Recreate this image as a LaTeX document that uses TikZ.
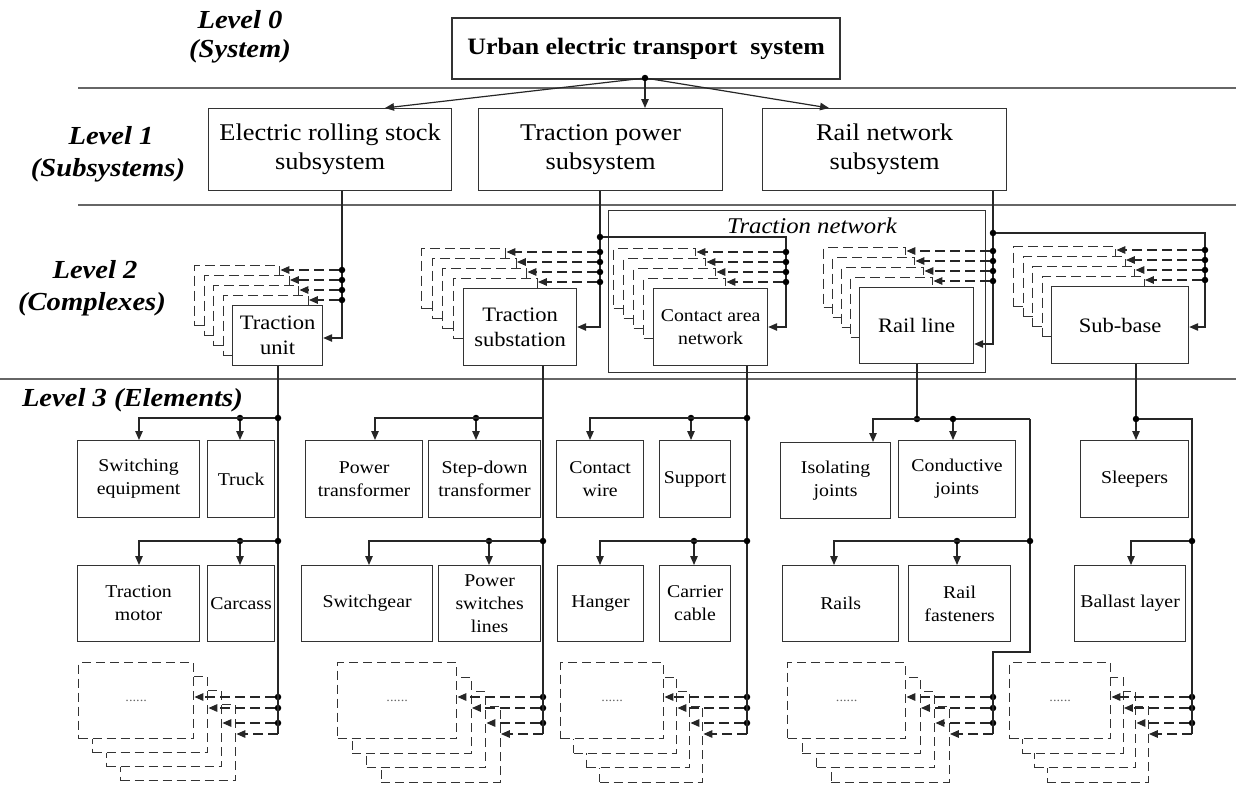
\documentclass[tikz,border=0pt]{standalone}
\usepackage{fontspec}
\setmainfont{Liberation Serif}[FakeStretch=1.1]
\usetikzlibrary{arrows.meta}
\newcommand\fLvl{\fontsize{26}{30}\selectfont\bfseries\itshape}
\newcommand\fTop{\fontsize{23.5}{28}\selectfont\bfseries}
\newcommand\fOne{\fontsize{24}{29}\selectfont}
\newcommand\fTwo{\fontsize{20.5}{25}\selectfont}
\newcommand\fThree{\fontsize{18}{23}\selectfont}
\newcommand\fTN{\fontsize{22.5}{27}\selectfont\itshape}
\newcommand\fDots{\fontsize{13}{13}\selectfont}
\tikzset{
  ln/.style={draw=black!85, line width=1.2pt},
  arr/.style={ln, -{Triangle[length=9pt,width=7.5pt]}},
  dln/.style={ln, line width=1.4pt, dash pattern=on 10pt off 5pt},
  darr/.style={dln, -{Triangle[length=9pt,width=7.5pt]}},
  dot/.style={circle, fill=black, inner sep=0pt, minimum size=6.5pt},
  box/.style={draw=black!80, line width=1.2pt, fill=white, inner sep=0pt, anchor=north west, align=center},
  dbox/.style={box, line width=1.4pt, dash pattern=on 10pt off 5pt},
  dbox3/.style={box, line width=1.4pt, dash pattern=on 9pt off 5pt},
  sep/.style={draw=black!60, line width=1.3pt},
  lvl/.style={font=\fLvl, inner sep=0pt},
}
\newcommand\ubox[7][box]{\node[#1,minimum width=#5pt,minimum height=#6pt] (#2) at (#3,#4) {#7};}
% level-2 back stack: #1 prefix, #2 x, #3 y (front top-left), #4 dx, #5 w
\newcommand\bstack[5]{\foreach \k in {4,3,2,1}{\node[dbox, minimum width=#5pt, minimum height=60pt] (#1s\k) at ({#2-#4*\k},{#3-10*\k}) {};}}
% level-3 stack: #1 prefix #2 x #3 y #4 w #5 dx #6 dy #7 feed x
\newcommand\estack[7]{%
  \foreach \k in {3,2,1}{\node[dbox3, minimum width=#4pt, minimum height=76pt] (#1e\k) at ({#2+#5*\k},{#3+#6*\k}) {};}
  \node[dbox3, minimum width=#4pt, minimum height=76pt, font=\fDots, text=black!60] (#1e0) at (#2,#3) {......};
  \node[dot] (#1f0) at (#7,697) {};
  \node[dot] (#1f1) at (#7,708) {};
  \node[dot] (#1f2) at (#7,723) {};
  \coordinate (#1f3) at (#7,734);
  \foreach \k in {0,1,2,3}{\draw[darr] (#1f\k) -- (#1f\k -| #1e\k.east);}
}
\begin{document}
\begin{tikzpicture}[x=1pt,y=-1pt]
\useasboundingbox (0,0) rectangle (1236,784);
% separators
\draw[sep] (78,88) -- (1236,88);
\draw[sep] (78,205) -- (1236,205);
\draw[sep] (0,379) -- (1236,379);
% level labels
\node[lvl] (l0a) at (240,20) {Level 0};
\node[lvl] (l0b) at (240,51) {(System)};
\node[lvl] (l1a) at (111,136) {Level 1};
\node[lvl] (l1b) at (108,170) {(Subsystems)};
\node[lvl] (l2a) at (95,270) {Level 2};
\node[lvl] (l2b) at (92,304) {(Complexes)};
\node[lvl, anchor=east] (l3) at (243,400) {Level 3 (Elements)};
% level 0
\ubox[box,line width=2.4pt,font=\fTop]{top}{451}{17}{388}{61}{Urban electric transport\ \ system}
% level 1
\ubox[box,font=\fOne]{ers}{208}{108}{243}{82}{Electric rolling stock\\subsystem}
\ubox[box,font=\fOne]{tps}{478}{108}{244}{82}{Traction power\\subsystem}
\ubox[box,font=\fOne]{rns}{762}{108}{244}{82}{Rail network\\subsystem}
\node[dot] (j0) at (645,78) {};
\draw[arr] (j0) -- (ers.north -| 385,0);
\draw[arr] (j0) -- (j0 |- tps.north);
\draw[arr] (j0) -- (rns.north -| 829,0);
% level 2
\node[draw=black!80, line width=1.2pt, minimum width=377pt, minimum height=162pt, anchor=north west, inner sep=0pt] (tn) at (608,210) {};
\node[font=\fTN] (tnl) at (812,226) {Traction network};
\bstack{tu}{232}{305}{9.5}{85}
\ubox[box,font=\fTwo]{tu}{232}{305}{90}{60}{Traction\\unit}
\bstack{ts}{463}{288}{10.5}{84}
\ubox[box,font=\fTwo]{ts}{463}{288}{113}{77}{Traction\\substation}
\bstack{can}{653}{288}{10}{82}
\ubox[box,font=\fThree]{can}{653}{288}{114}{77}{Contact area\\network}
\bstack{rl}{859}{287}{9}{82}
\ubox[box,font=\fTwo]{rl}{859}{287}{114}{76}{Rail line}
\bstack{sb}{1051}{286}{9.5}{102}
\ubox[box,font=\fTwo]{sb}{1051}{286}{137}{77}{Sub-base}
% feeds level 1 -> 2
\coordinate (ersf) at (ers.south -| 342,0);
\draw[arr] (ersf) |- (tu.east |- 0,338);
\foreach \k/\yy in {1/300,2/290,3/280,4/270}{\node[dot] (tud\k) at (342,\yy) {}; \draw[darr] (tud\k) -- (tud\k -| tus\k.east);}
\coordinate (tpsf) at (tps.south -| 600,0);
\draw[arr] (tpsf) |- (ts.east |- 0,327);
\node[dot] (tsj) at (600,237) {};
\foreach \k/\yy in {1/282,2/272,3/262,4/252}{\node[dot] (tsd\k) at (600,\yy) {}; \draw[darr] (tsd\k) -- (tsd\k -| tss\k.east);}
\coordinate (canf) at (786,237);
\draw[arr] (tsj) -- (canf) |- (can.east |- 0,327);
\foreach \k/\yy in {1/282,2/272,3/262,4/252}{\node[dot] (cand\k) at (786,\yy) {}; \draw[darr] (cand\k) -- (cand\k -| cans\k.east);}
\coordinate (rnsf) at (rns.south -| 993,0);
\draw[arr] (rnsf) |- (rl.east |- 0,344);
\node[dot] (rlj) at (993,233) {};
\foreach \k/\yy in {1/281,2/271,3/261,4/251}{\node[dot] (rld\k) at (993,\yy) {}; \draw[darr] (rld\k) -- (rld\k -| rls\k.east);}
\coordinate (sbf) at (1205,233);
\draw[arr] (rlj) -- (sbf) |- (sb.east |- 0,327);
\foreach \k/\yy in {1/280,2/270,3/260,4/250}{\node[dot] (sbd\k) at (1205,\yy) {}; \draw[darr] (sbd\k) -- (sbd\k -| sbs\k.east);}
% level 3 boxes
\ubox[box,font=\fThree]{swe}{77}{440}{122}{77}{Switching\\equipment}
\ubox[box,font=\fThree]{truck}{207}{440}{67}{77}{Truck}
\ubox[box,font=\fThree]{pt}{305}{440}{117}{77}{Power\\transformer}
\ubox[box,font=\fThree]{sd}{428}{440}{112}{77}{Step-down\\transformer}
\ubox[box,font=\fThree]{cw}{556}{440}{87}{77}{Contact\\wire}
\ubox[box,font=\fThree]{sup}{659}{440}{71}{77}{Support}
\ubox[box,font=\fThree]{ij}{780}{442}{110}{76}{Isolating\\joints}
\ubox[box,font=\fThree]{cj}{898}{440}{117}{77}{Conductive\\joints}
\ubox[box,font=\fThree]{slp}{1080}{440}{108}{77}{Sleepers}
\ubox[box,font=\fThree]{tm}{77}{565}{122}{76}{Traction\\motor}
\ubox[box,font=\fThree]{carc}{207}{565}{67}{76}{Carcass}
\ubox[box,font=\fThree]{sg}{301}{565}{131}{76}{Switchgear}
\ubox[box,font=\fThree]{psl}{438}{565}{102}{76}{Power\\switches\\lines}
\ubox[box,font=\fThree]{hang}{557}{565}{86}{76}{Hanger}
\ubox[box,font=\fThree]{cc}{659}{565}{71}{76}{Carrier\\cable}
\ubox[box,font=\fThree]{rails}{782}{565}{116}{76}{Rails}
\ubox[box,font=\fThree]{rf}{908}{565}{102}{76}{Rail\\fasteners}
\ubox[box,font=\fThree]{bal}{1074}{565}{111}{76}{Ballast layer}
% level 3 stacks
\estack{tu}{78}{662}{115}{14}{14}{278}
\estack{ts}{337}{662}{119}{14.5}{14.5}{543}
\estack{can}{560}{662}{103}{13}{14.5}{747}
\estack{rl}{787}{662}{118}{14.5}{14.5}{993}
\estack{sb}{1009}{662}{101}{12.5}{14.5}{1192}
% level 3 connectors: traction unit
\draw[ln] (tu.south -| tuf3) -- (tuf3);
\node[dot] (tur1) at (278,418) {};
\node[dot] (tur2) at (240,418) {};
\draw[arr] (tur1) -| (swe.north -| 139,0);
\draw[arr] (tur2) -- (tur2 |- truck.north);
\node[dot] (tur3) at (278,541) {};
\node[dot] (tur4) at (240,541) {};
\draw[arr] (tur3) -| (tm.north -| 139,0);
\draw[arr] (tur4) -- (tur4 |- carc.north);
% traction substation
\draw[ln] (ts.south -| tsf3) -- (tsf3);
\coordinate (tsr1) at (543,418);
\node[dot] (tsr2) at (476,418) {};
\draw[arr] (tsr1) -| (pt.north -| 375,0);
\draw[arr] (tsr2) -- (tsr2 |- sd.north);
\node[dot] (tsr3) at (543,541) {};
\node[dot] (tsr4) at (489,541) {};
\draw[arr] (tsr3) -| (sg.north -| 369,0);
\draw[arr] (tsr4) -- (tsr4 |- psl.north);
% contact area network
\draw[ln] (can.south -| canf3) -- (canf3);
\node[dot] (canr1) at (747,418) {};
\node[dot] (canr2) at (691,418) {};
\draw[arr] (canr1) -| (cw.north -| 590,0);
\draw[arr] (canr2) -- (canr2 |- sup.north);
\node[dot] (canr3) at (747,541) {};
\node[dot] (canr4) at (694,541) {};
\draw[arr] (canr3) -| (hang.north -| 600,0);
\draw[arr] (canr4) -- (canr4 |- cc.north);
% rail line
\node[dot] (rlr1) at (917,419) {};
\draw[ln] (rl.south -| rlr1) -- (rlr1);
\coordinate (rlc1) at (1030,419);
\coordinate (rlc2) at (1030,652);
\coordinate (rlc3) at (993,652);
\draw[arr] (rlc1) -| (ij.north -| 873,0);
\node[dot] (rlr2) at (953,419) {};
\draw[arr] (rlr2) -- (rlr2 |- cj.north);
\draw[ln] (rlc1) -- (rlc2) -- (rlc3) -- (rlf3);
\node[dot] (rlr3) at (1030,541) {};
\node[dot] (rlr4) at (957,541) {};
\draw[arr] (rlr3) -| (rails.north -| 834,0);
\draw[arr] (rlr4) -- (rlr4 |- rf.north);
% sub-base
\node[dot] (sbr1) at (1136,419) {};
\draw[ln] (sb.south -| sbr1) -- (sbr1);
\draw[arr] (sbr1) -- (sbr1 |- slp.north);
\coordinate (sbc1) at (1192,419);
\draw[ln] (sbr1) -- (sbc1) -- (sbf3);
\node[dot] (sbr2) at (1192,541) {};
\draw[arr] (sbr2) -| (bal.north -| 1131,0);
\end{tikzpicture}
\end{document}
